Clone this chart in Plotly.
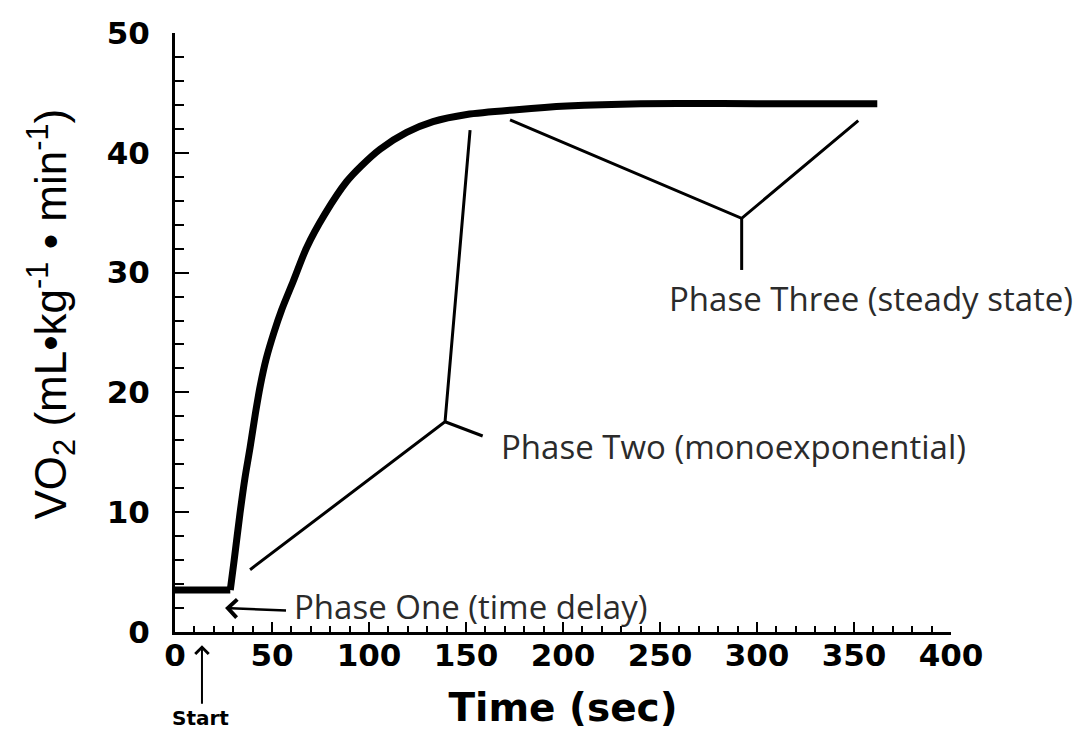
import plotly.graph_objects as go

# Oxygen uptake response to a step increase in work rate
baseline_time = [0, 28.5]
baseline_vo2 = [3.5, 3.5]
time_sec = [28.5, 30.5, 33.5, 36, 38.7, 41.5, 44, 47, 51, 55, 61, 67.9, 77.3,
            88.5, 96, 105.7, 119.4, 133, 150.4, 176, 202, 240, 300, 362]
vo2 = [3.5, 6.0, 9.9, 12.8, 15.4, 18.3, 20.6, 22.8, 25.0, 26.9, 29.3, 32.1,
       34.9, 37.6, 38.9, 40.3, 41.7, 42.6, 43.2, 43.6, 43.9, 44.1, 44.1, 44.1]

x_ticks = [0, 50, 100, 150, 200, 250, 300, 350, 400]
y_ticks = [0, 10, 20, 30, 40, 50]

y_title = "VO<sub>2</sub> (mL\u2022kg<sup>-1</sup> \u2022 min<sup>-1</sup>)"
phase_labels = ["Phase One (time delay)", "Phase Two (monoexponential)",
                "Phase Three (steady state)"]

# leader lines (data units), None separates segments
phase_two_x = [38.7, 139.2, 152.1, None, 139.2, 158.6]
phase_two_y = [5.2, 17.55, 41.9, None, 17.55, 16.36]
phase_three_x = [172.7, 292.1, 352.2, None, 292.1, 292.1]
phase_three_y = [42.74, 34.53, 42.68, None, 34.53, 30.22]

label_font = dict(family="Open Sans", size=33, color="#2b2b2b")
bold_font = "DejaVu Sans"

fig = go.Figure()
fig.add_trace(go.Scatter(x=baseline_time, y=baseline_vo2, mode="lines",
                         line=dict(color="black", width=7),
                         hoverinfo="skip", showlegend=False))
fig.add_trace(go.Scatter(x=time_sec, y=vo2, mode="lines",
                         line=dict(color="black", width=7, shape="spline",
                                   smoothing=0.8),
                         hoverinfo="skip", showlegend=False))
fig.add_trace(go.Scatter(x=phase_two_x, y=phase_two_y, mode="lines",
                         line=dict(color="black", width=3),
                         hoverinfo="skip", showlegend=False))
fig.add_trace(go.Scatter(x=phase_three_x, y=phase_three_y, mode="lines",
                         line=dict(color="black", width=3),
                         hoverinfo="skip", showlegend=False))

# phase labels
fig.add_annotation(x=60.5, y=2.1, text=phase_labels[0], showarrow=False,
                   xanchor="left", yanchor="middle", font=label_font)
fig.add_annotation(x=167.0, y=15.5, text=phase_labels[1], showarrow=False,
                   xanchor="left", yanchor="middle", font=label_font)
fig.add_annotation(x=253.5, y=27.8, text=phase_labels[2], showarrow=False,
                   xanchor="left", yanchor="middle", font=label_font)

# arrow to the end of the time delay
fig.add_annotation(x=25.8, y=2.0, ax=58.0, ay=1.8, axref="x", ayref="y",
                   text="", showarrow=True, arrowhead=4, arrowsize=1.4,
                   arrowwidth=2.5, arrowcolor="black")

# exercise onset marker below the time axis
fig.add_annotation(x=13.9, y=-0.022, xref="x", yref="paper",
                   ax=0, ay=60, text="", showarrow=True, arrowhead=4,
                   arrowsize=1.3, arrowwidth=2, arrowcolor="black")
fig.add_annotation(x=12.9, y=-0.1436, xref="x", yref="paper", text="Start",
                   showarrow=False, xanchor="center", yanchor="middle",
                   font=dict(family=bold_font, size=20, color="black",
                             weight="bold"))

# vertical axis title
fig.add_annotation(x=-0.159, y=0.531, xref="paper", yref="paper",
                   text=y_title, textangle=-90, showarrow=False,
                   xanchor="center", yanchor="middle",
                   font=dict(family="Liberation Sans", size=44, color="black"))

fig.update_layout(
    width=1088, height=738,
    margin=dict(l=175, r=137, t=33, b=106),
    paper_bgcolor="white", plot_bgcolor="white",
    xaxis=dict(
        range=[0, 400], tickvals=x_ticks, ticktext=[str(v) for v in x_ticks],
        showgrid=False, zeroline=False,
        showline=True, linecolor="black", linewidth=3,
        ticks="inside", ticklen=10, tickwidth=2, tickcolor="black",
        minor=dict(dtick=10, ticks="inside", ticklen=6, tickwidth=2,
                   tickcolor="black", showgrid=False),
        tickfont=dict(family=bold_font, size=31, color="black", weight="bold"),
        ticklabelstandoff=-6,
        title=dict(text="Time (sec)", standoff=22,
                   font=dict(family=bold_font, size=39, color="black",
                             weight="bold")),
    ),
    yaxis=dict(
        range=[0, 50], tickvals=y_ticks, ticktext=[str(v) for v in y_ticks],
        showgrid=False, zeroline=False,
        showline=True, linecolor="black", linewidth=3,
        ticks="inside", ticklen=14, tickwidth=2, tickcolor="black",
        minor=dict(dtick=2, ticks="inside", ticklen=9, tickwidth=2,
                   tickcolor="black", showgrid=False),
        tickfont=dict(family=bold_font, size=31, color="black", weight="bold"),
        ticklabelstandoff=16,
    ),
)

fig.write_html("out.html")
